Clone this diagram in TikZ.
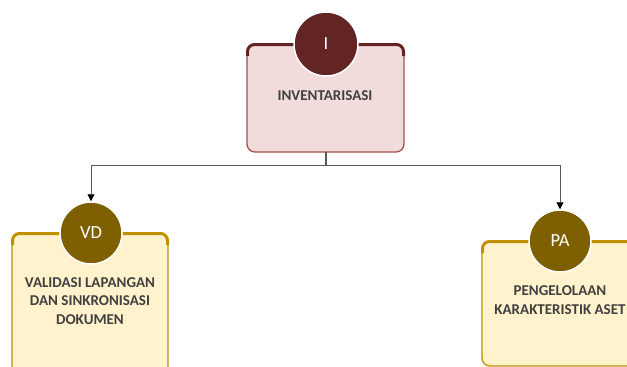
\documentclass[tikz,border=0pt]{standalone}
\usepackage{fontspec}
\setmainfont{Carlito}
\usetikzlibrary{arrows.meta}
\definecolor{redfill}{HTML}{F2DCDB}
\definecolor{redline}{HTML}{A0504E}
\definecolor{reddark}{HTML}{632523}
\definecolor{yelfill}{HTML}{FFF2CC}
\definecolor{yelline}{HTML}{BF9000}
\definecolor{yeldark}{HTML}{7F6000}
\definecolor{txt}{HTML}{404040}
\definecolor{conn}{HTML}{595959}
\tikzset{
  panel/.style={draw=#1, line width=1.3pt, rounded corners=8pt},
  badge/.style={circle, draw=white, line width=1.5pt, fill=#1, minimum size=64pt, inner sep=0pt, text=white, font=\fontsize{18.5}{20}\selectfont},
  lbl/.style={text=txt, font=\bfseries\fontsize{15}{18.5}\selectfont, align=center},
  link/.style={draw=conn, line width=0.9pt},
  tip/.style={-{Triangle[length=7pt,width=7pt,fill=black,color=black]}}
}
\begin{document}
\begin{tikzpicture}[x=1pt,y=-1pt]
\useasboundingbox (0,0) rectangle (627,367);
\clip (0,0) rectangle (627,367);
% top panel
\fill[redfill, rounded corners=8pt] (247,44) rectangle (404,152);
\draw[panel=redline] (247,44) rectangle (404,152);
\draw[reddark, line width=3pt, rounded corners=7pt] (247.5,56) -- (247.5,44.5) -- (403.5,44.5) -- (403.5,56);
\node[badge=reddark] (bI) at (326,44) {I};
\node[lbl] (tI) at (325,96) {INVENTARISASI};
\coordinate (pI) at (326,152);
% left panel
\fill[yelfill, rounded corners=8pt] (12,233) rectangle (168,400);
\draw[panel=yelline] (12,233) rectangle (168,400);
\draw[yelline, line width=3pt, rounded corners=7pt] (12.5,245) -- (12.5,233.5) -- (167.5,233.5) -- (167.5,245);
\node[badge=yeldark, minimum size=62pt] (bVD) at (91,233) {VD};
\node[lbl] (tVD) at (90,301) {VALIDASI LAPANGAN\\DAN SINKRONISASI\\DOKUMEN};
% right panel
\fill[yelfill, rounded corners=8pt] (482,241) rectangle (660,366);
\draw[panel=yelline] (482,241) rectangle (660,366);
\draw[yelline, line width=3pt, rounded corners=7pt] (482.5,253) -- (482.5,241.5) -- (660,241.5);
\node[badge=yeldark, minimum size=62pt] (bPA) at (560,241) {PA};
\node[lbl] (tPA) at (560,300) {PENGELOLAAN\\KARAKTERISTIK ASET};
% connectors
\coordinate (j) at (326,165);
\draw[link, line width=1.1pt] (pI) -- (j);
\draw[link, tip] (j) -| (bVD.north);
\draw[link, tip] (j) -| (bPA.north);
\end{tikzpicture}
\end{document}
